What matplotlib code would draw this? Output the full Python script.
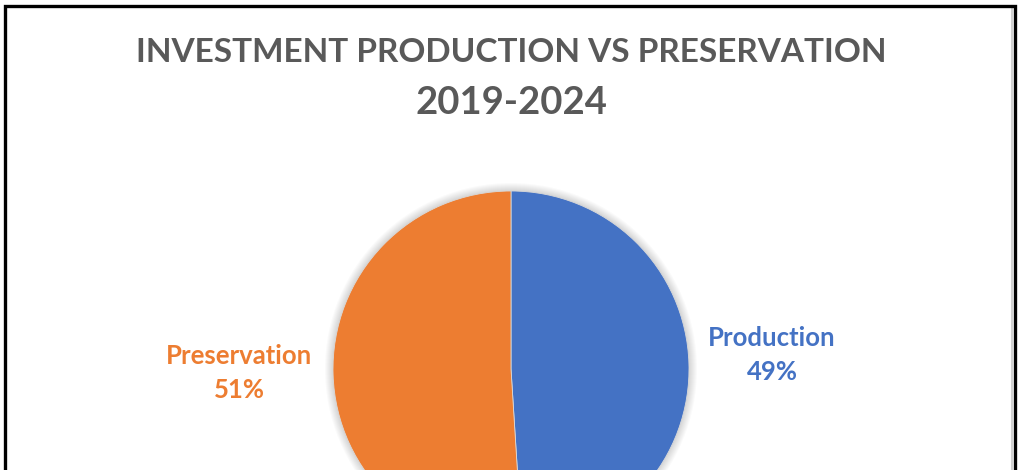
import matplotlib.pyplot as plt
from matplotlib.patches import Circle, Rectangle

# Investment split 2019-2024 (percent)
categories = ['Production', 'Preservation']
shares = [49, 51]
colors = ['#4472C4', '#ED7D31']

W, H = 1018, 470
fig = plt.figure(figsize=(W / 100, H / 100), dpi=100)
ax = fig.add_axes([0, 0, 1, 1])

cx, cy, r = 511, 101, 178

# soft shadow behind the pie
for i in range(8):
    ax.add_patch(Circle((cx, cy), r + 1 + i, color='black', alpha=0.018, lw=0, zorder=0))

ax.pie(shares, colors=colors, startangle=90, counterclock=False,
       center=(cx, cy), radius=r,
       wedgeprops=dict(linewidth=0.6, edgecolor='#d9d9d9', zorder=2))

ax.set_xlim(0, W)
ax.set_ylim(0, H)
ax.set_aspect('auto')
ax.axis('off')

font = ['Lato', 'DejaVu Sans']

ax.text(511, 417, 'INVESTMENT PRODUCTION VS PRESERVATION', ha='center', va='center',
        fontsize=24, fontweight='bold', color='#595959', family=font)
ax.text(511, 367, '2019-2024', ha='center', va='center',
        fontsize=27.5, fontweight='bold', color='#595959', family=font)

# data labels beside each slice
label_pos = {'Production': (772, 115), 'Preservation': (239, 97)}
for name, val, col in zip(categories, shares, colors):
    x, y = label_pos[name]
    ax.text(x, y, f'{name}\n{val}%', ha='center', va='center', fontsize=18.5,
            fontweight='bold', color=col, family=font, linespacing=1.5)

# outer frame
ax.add_patch(Rectangle((5.5, -10), 1009.5, 474.5, fill=False, edgecolor='black',
                       lw=2.4, zorder=5, clip_on=False))
ax.plot([1012, 1012], [0, 464], color='#d0d0d0', lw=1.5, zorder=4)

fig.savefig('out.png', dpi=100)
